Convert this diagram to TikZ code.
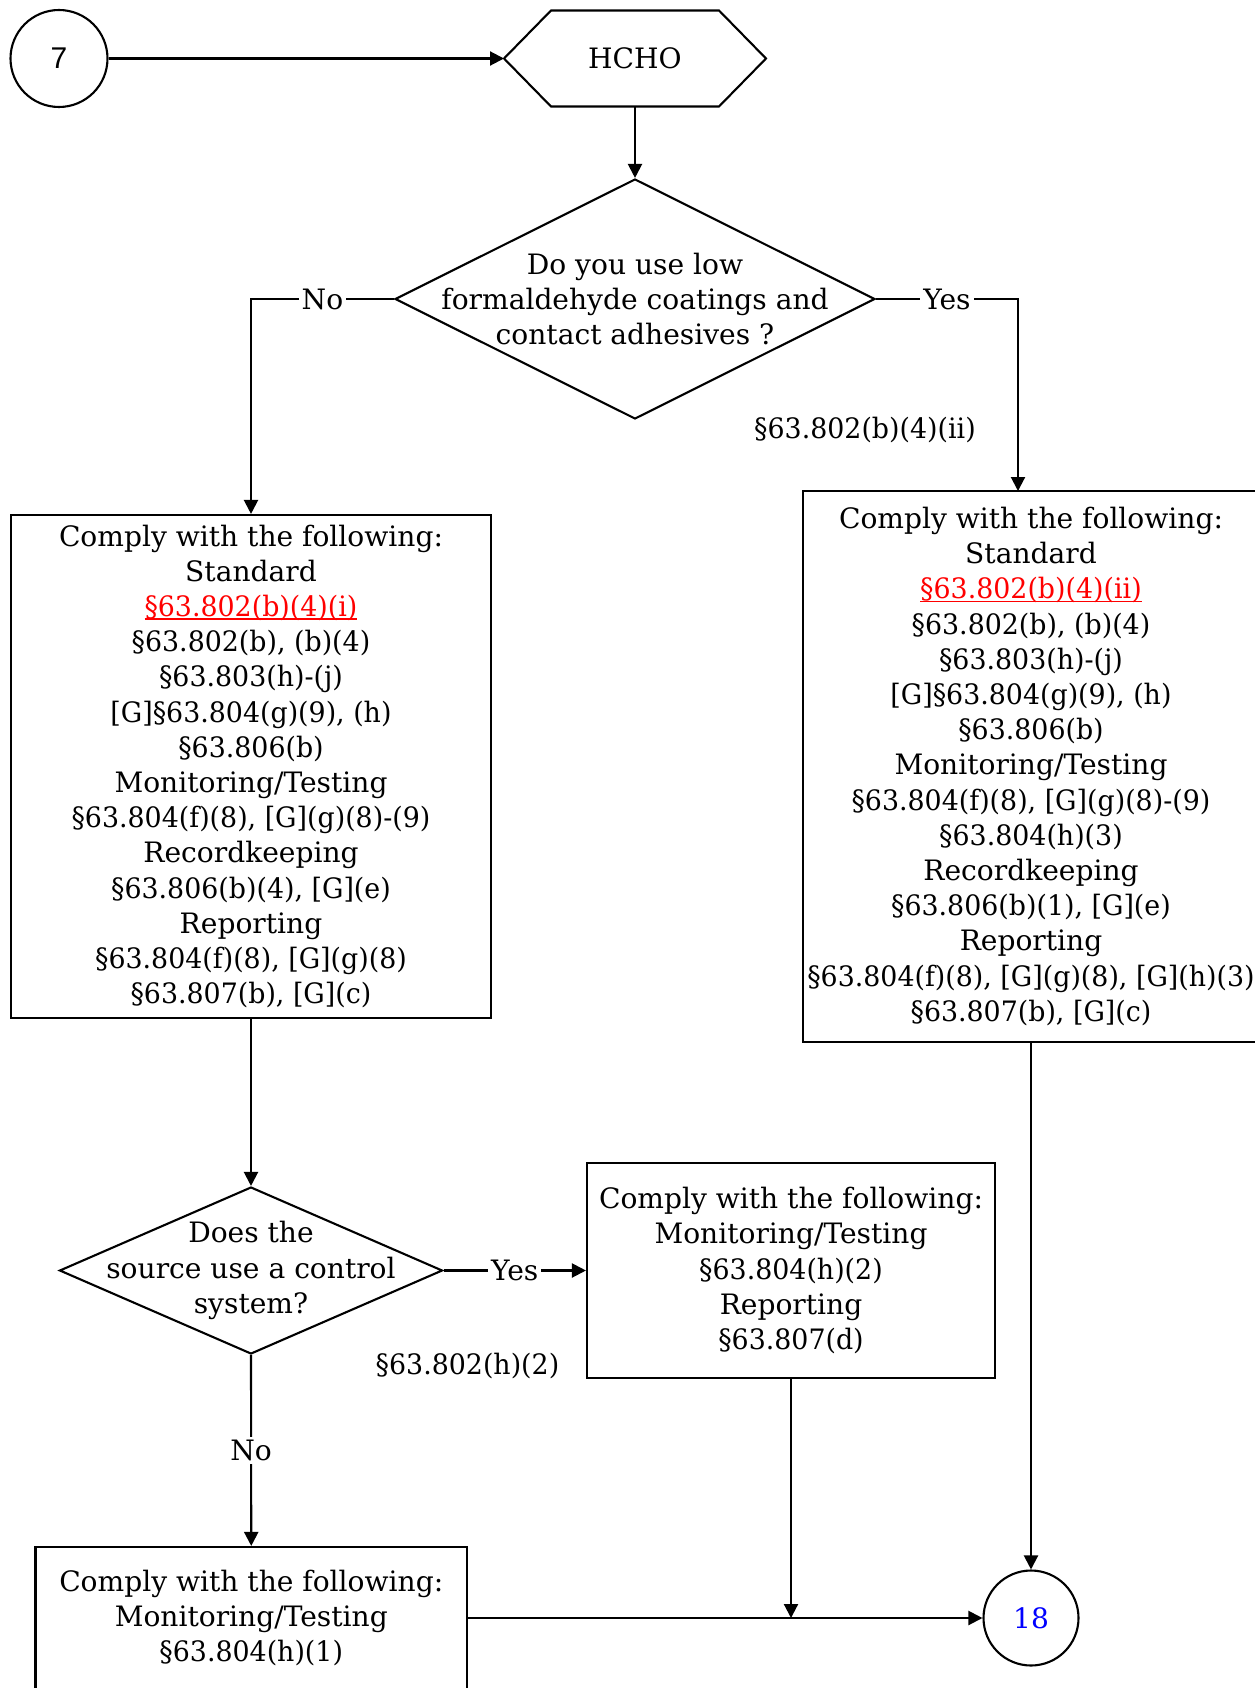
\documentclass[tikz,border=0pt]{standalone}
\usepackage{fontspec}
\setmainfont{DejaVu Serif}
\newfontfamily\secfont[FakeStretch=0.955]{DejaVu Serif}
\newfontfamily\sansfnt{Liberation Sans}
\usetikzlibrary{arrows.meta,shapes.geometric}
\newlength\cmpw
\newsavebox\ulbox
\newcommand\sr[1]{{\secfont #1}}
\newcommand\redul[1]{\textcolor{red}{\sbox\ulbox{\secfont #1}\rlap{\rule[-3pt]{\wd\ulbox}{1.3pt}}\usebox\ulbox}}
\begin{document}
\settowidth\cmpw{\fontsize{10pt}{12pt}\selectfont Comply with the following:}%
\pgfmathsetmacro\fsz{10*384/\cmpw}%
\begin{tikzpicture}[x=1pt,y=-1pt,line width=2.1pt,>={Triangle[length=14pt,width=14pt]}]
\tikzset{
  every node/.style={font=\fontsize{\fsz pt}{35.2pt}\selectfont},
  box/.style={draw, rectangle, align=center, inner sep=0pt},
  circ/.style={draw, circle, inner sep=0pt, minimum size=97pt},
  dia/.style={draw, diamond, inner sep=0pt},
  txt/.style={align=center, inner sep=0pt},
  lab/.style={fill=white, inner sep=3pt},
  arr/.style={draw, ->},
}
\useasboundingbox (0,0) rectangle (1254,1688);

% top
\node[circ, font=\sansfnt\fontsize{30pt}{34pt}\selectfont] (c7) at (59,58.5) {7};
\node[inner sep=0pt, outer sep=0pt, minimum width=262pt, minimum height=96pt] (hcho) at (635,58.5) {HCHO};
\draw (hcho.west) -- ([xshift=47pt]hcho.north west) -- ([xshift=-47pt]hcho.north east) -- (hcho.east)
  -- ([xshift=-47pt]hcho.south east) -- ([xshift=47pt]hcho.south west) -- cycle;

\node[dia, minimum width=480pt, minimum height=240pt] (d1) at (635,299) {};
\node[txt] (d1t) at (d1.center) {Do you use low\\formaldehyde coatings and\\contact adhesives ?};

% boxes
\node[box, minimum width=480pt, minimum height=503pt] (lb) at (251,766.5) {Comply with the following:\\Standard\\\redul{§63.802(b)(4)(i)}\\\sr{§63.802(b), (b)(4)}\\\sr{§63.803(h)-(j)}\\\sr{[G]§63.804(g)(9), (h)}\\\sr{§63.806(b)}\\Monitoring/Testing\\\sr{§63.804(f)(8), [G](g)(8)-(9)}\\Recordkeeping\\\sr{§63.806(b)(4), [G](e)}\\Reporting\\\sr{§63.804(f)(8), [G](g)(8)}\\\sr{§63.807(b), [G](c)}};

\node[box, minimum width=456pt, minimum height=551pt] (rb) at (1031,766.5) {Comply with the following:\\Standard\\\redul{§63.802(b)(4)(ii)}\\\sr{§63.802(b), (b)(4)}\\\sr{§63.803(h)-(j)}\\\sr{[G]§63.804(g)(9), (h)}\\\sr{§63.806(b)}\\Monitoring/Testing\\\sr{§63.804(f)(8), [G](g)(8)-(9)}\\\sr{§63.804(h)(3)}\\Recordkeeping\\\sr{§63.806(b)(1), [G](e)}\\Reporting\\\sr{§63.804(f)(8), [G](g)(8), [G](h)(3)}\\\sr{§63.807(b), [G](c)}};

\node (l1) at (865,430) {\sr{§63.802(b)(4)(ii)}};

\node[dia, minimum width=383pt, minimum height=167pt] (d2) at (251,1270.5) {};
\node[txt] (d2t) at (d2.center) {Does the\\source use a control\\system?};

\node[box, minimum width=408pt, minimum height=215pt] (mb) at (791,1270.5) {Comply with the following:\\Monitoring/Testing\\\sr{§63.804(h)(2)}\\Reporting\\\sr{§63.807(d)}};

\node (l2) at (467.5,1366) {\sr{§63.802(h)(2)}};

\node[box, minimum width=431.5pt, minimum height=142pt] (bb) at (251.25,1618) {Comply with the following:\\Monitoring/Testing\\\sr{§63.804(h)(1)}};

\node[circ, minimum size=95pt, text=blue] (c18) at (1031,1618) {18};

\coordinate (yr) at (1018,491);

% connectors
\draw[arr] (c7.east) -- (hcho.west);
\draw[arr] (hcho.south) -- (d1.north);
\draw[arr] (d1.west) -- node[lab, midway]{No} (lb.north |- d1.west) -- (lb.north);
\draw[arr] (d1.east) -- node[lab, midway]{Yes} (yr |- d1.east) -- (yr);
\draw[arr] (lb.south) -- (d2.north);
\draw[arr] (d2.east) -- node[lab, midway]{Yes} (mb.west |- d2.east);
\draw[arr] (d2.south) -- node[lab, midway]{No} (bb.north);
\draw[arr] (bb.east) -- (c18.west);
\draw[arr] (mb.south) -- (mb.south |- bb.east);
\draw[arr] (rb.south) -- (c18.north);
\end{tikzpicture}
\end{document}
